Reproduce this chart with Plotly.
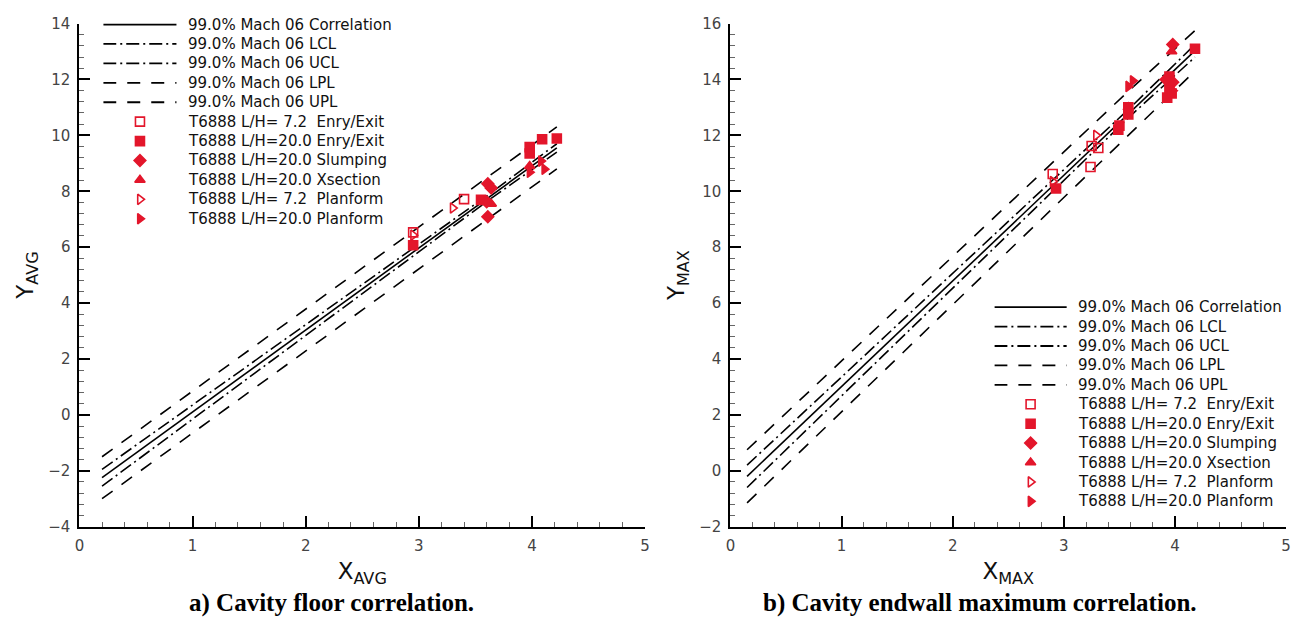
import plotly.graph_objects as go

W, H = 1308, 624

# ---------------- Cavity floor (average) panel ----------------
floor_lh7_entry_x = [2.95, 3.40]
floor_lh7_entry_y = [6.53, 7.72]
floor_lh20_entry_x = [2.95, 3.55, 3.98, 3.98, 4.09, 4.22]
floor_lh20_entry_y = [6.07, 7.69, 9.58, 9.35, 9.86, 9.89]
floor_slump_x = [3.61, 3.64, 3.60, 3.61]
floor_slump_y = [8.27, 8.12, 7.62, 7.09]
floor_xsec_x = [3.98, 3.64]
floor_xsec_y = [8.90, 7.55]
floor_lh7_plan_x = [2.95, 3.30]
floor_lh7_plan_y = [6.43, 7.40]
floor_lh20_plan_x = [3.98, 4.08, 4.11]
floor_lh20_plan_y = [8.68, 9.08, 8.79]

floor_fit_x = [0.2, 3.6, 4.22]
floor_corr = [-2.25, 7.73, 9.55]
floor_lcl = [-2.55, 7.63, 9.40]
floor_ucl = [-1.95, 7.83, 9.70]
floor_lpl = [-3.00, 6.98, 8.80]
floor_upl = [-1.50, 8.48, 10.30]

# ---------------- Cavity endwall (maximum) panel ----------------
wall_lh7_entry_x = [2.90, 3.25, 3.31, 3.24]
wall_lh7_entry_y = [10.62, 11.62, 11.55, 10.87]
wall_lh20_entry_x = [2.93, 3.49, 3.50, 3.58, 3.58, 3.93, 3.95, 3.97, 3.95, 4.18]
wall_lh20_entry_y = [10.10, 12.20, 12.35, 12.75, 13.00, 13.35, 13.70, 13.50, 14.10, 15.10]
wall_slump_x = [3.98, 3.98, 3.92]
wall_slump_y = [15.25, 13.90, 14.00]
wall_xsec_x = [3.97, 3.58]
wall_xsec_y = [15.00, 13.00]
wall_lh7_plan_x = [2.90, 3.29]
wall_lh7_plan_y = [10.35, 12.00]
wall_lh20_plan_x = [3.62, 3.58, 3.98]
wall_lh20_plan_y = [13.95, 13.75, 13.60]

wall_fit_x = [0.15, 3.6, 4.18]
wall_corr = [-0.20, 12.84, 15.03]
wall_lcl = [-0.60, 12.70, 14.80]
wall_ucl = [0.20, 13.00, 15.25]
wall_lpl = [-1.15, 12.05, 14.30]
wall_upl = [0.75, 13.65, 15.75]

# ---------------- Legend entries ----------------
fit_labels = [
    "99.0% Mach 06 Correlation",
    "99.0% Mach 06 LCL",
    "99.0% Mach 06 UCL",
    "99.0% Mach 06 LPL",
    "99.0% Mach 06 UPL",
]
point_labels = [
    "T6888 L/H= 7.2  Enry/Exit",
    "T6888 L/H=20.0 Enry/Exit",
    "T6888 L/H=20.0 Slumping",
    "T6888 L/H=20.0 Xsection",
    "T6888 L/H= 7.2  Planform",
    "T6888 L/H=20.0 Planform",
]

RED = "#e3162b"
SOLID = "solid"
DASHDOT = "13px,4px,2px,4px"
DASHED = "13px,11px"
line_dashes = [SOLID, DASHDOT, DASHDOT, DASHED, DASHED]
point_symbols = ["square-open", "square", "diamond", "triangle-up",
                 "triangle-right-open", "triangle-right"]

TXT = "DejaVu Sans"

fig = go.Figure()


def add_panel(xa, ya, fit_x, fits, points):
    for yy, dash in zip(fits, line_dashes):
        fig.add_trace(go.Scatter(
            x=fit_x, y=yy, mode="lines", xaxis=xa, yaxis=ya,
            line=dict(color="black", width=1.6, dash=dash),
            hoverinfo="skip"))
    for (px, py), sym in zip(points, point_symbols):
        fig.add_trace(go.Scatter(
            x=px, y=py, mode="markers", xaxis=xa, yaxis=ya,
            marker=dict(symbol=sym, size=9, color=RED,
                        line=dict(color=RED, width=1.6))))


add_panel("x", "y", floor_fit_x,
          [floor_corr, floor_lcl, floor_ucl, floor_lpl, floor_upl],
          [(floor_lh7_entry_x, floor_lh7_entry_y),
           (floor_lh20_entry_x, floor_lh20_entry_y),
           (floor_slump_x, floor_slump_y),
           (floor_xsec_x, floor_xsec_y),
           (floor_lh7_plan_x, floor_lh7_plan_y),
           (floor_lh20_plan_x, floor_lh20_plan_y)])

add_panel("x2", "y2", wall_fit_x,
          [wall_corr, wall_lcl, wall_ucl, wall_lpl, wall_upl],
          [(wall_lh7_entry_x, wall_lh7_entry_y),
           (wall_lh20_entry_x, wall_lh20_entry_y),
           (wall_slump_x, wall_slump_y),
           (wall_xsec_x, wall_xsec_y),
           (wall_lh7_plan_x, wall_lh7_plan_y),
           (wall_lh20_plan_x, wall_lh20_plan_y)])

annotations = []


def add_key(xa, ya):
    """Legend block drawn on its own hidden axes: one row per entry."""
    row = 0
    for lab, dash in zip(fit_labels, line_dashes):
        fig.add_trace(go.Scatter(
            x=[0, 1], y=[row, row], mode="lines", xaxis=xa, yaxis=ya,
            line=dict(color="black", width=1.8, dash=dash), hoverinfo="skip"))
        annotations.append(dict(x=1, y=row, xref=xa, yref=ya, text=lab,
                                xanchor="left", yanchor="middle", xshift=9,
                                showarrow=False,
                                font=dict(family=TXT, size=15, color="#111")))
        row += 1
    for lab, sym in zip(point_labels, point_symbols):
        fig.add_trace(go.Scatter(
            x=[0.5], y=[row], mode="markers", xaxis=xa, yaxis=ya,
            marker=dict(symbol=sym, size=9, color=RED,
                        line=dict(color=RED, width=1.6)), hoverinfo="skip"))
        annotations.append(dict(x=1, y=row, xref=xa, yref=ya, text=lab,
                                xanchor="left", yanchor="middle", xshift=9,
                                showarrow=False,
                                font=dict(family=TXT, size=15, color="#111")))
        row += 1


add_key("x3", "y3")
add_key("x4", "y4")

# Sub-figure captions
annotations.append(dict(x=329 / W, y=1 - 612 / H, xref="paper", yref="paper",
                        text="<b>a) Cavity floor correlation.</b>",
                        showarrow=False, xanchor="center", yanchor="middle",
                        font=dict(family="Liberation Serif", size=25, color="black")))
annotations.append(dict(x=983 / W, y=1 - 612 / H, xref="paper", yref="paper",
                        text="<b>b) Cavity endwall maximum correlation.</b>",
                        showarrow=False, xanchor="center", yanchor="middle",
                        font=dict(family="Liberation Serif", size=25, color="black")))


def axis(domain, rng, dtick, minor_dtick, title, anchor, standoff):
    return dict(
        domain=domain, range=rng, dtick=dtick, tick0=0, anchor=anchor,
        showline=True, linecolor="black", linewidth=2, mirror=False,
        ticks="inside", ticklen=11, tickwidth=2, tickcolor="black",
        showgrid=False, zeroline=False, ticklabelstandoff=4,
        tickfont=dict(family=TXT, size=15, color="#444"),
        minor=dict(ticks="inside", ticklen=5, tickwidth=1, tickcolor="#666",
                   dtick=minor_dtick, showgrid=False),
        title=dict(text=title, standoff=standoff,
                   font=dict(family=TXT, size=23, color="#111")),
        fixedrange=True,
    )


ydom = [1 - 533 / H, 1 - 15 / H]
key_axis = dict(visible=False, fixedrange=True)

fig.update_layout(
    width=W, height=H,
    margin=dict(l=0, r=0, t=0, b=0),
    paper_bgcolor="white", plot_bgcolor="white",
    showlegend=False,
    annotations=annotations,
    xaxis=axis([75 / W, 645 / W], [0, 5], 1, 0.2, "X<sub>AVG</sub>", "y", 9),
    yaxis=axis(ydom, [-4, 14], 2, 0.4, "Y<sub>AVG</sub>", "x", 8),
    xaxis2=axis([731 / W, 1291 / W], [0, 5], 1, 0.2, "X<sub>MAX</sub>", "y2", 9),
    yaxis2=axis(ydom, [-2, 16], 2, 0.4, "Y<sub>MAX</sub>", "x2", 8),
    xaxis3=dict(key_axis, domain=[99 / W, 173 / W], range=[0, 1], anchor="y3"),
    yaxis3=dict(key_axis, domain=[1 - 226 / H, 1 - 6 / H], range=[10.5, -0.5], anchor="x3"),
    xaxis4=dict(key_axis, domain=[997 / W, 1070 / W], range=[0, 1], anchor="y4"),
    yaxis4=dict(key_axis, domain=[1 - 517 / H, 1 - 297 / H], range=[10.5, -0.5], anchor="x4"),
)

fig.write_html("out.html")
